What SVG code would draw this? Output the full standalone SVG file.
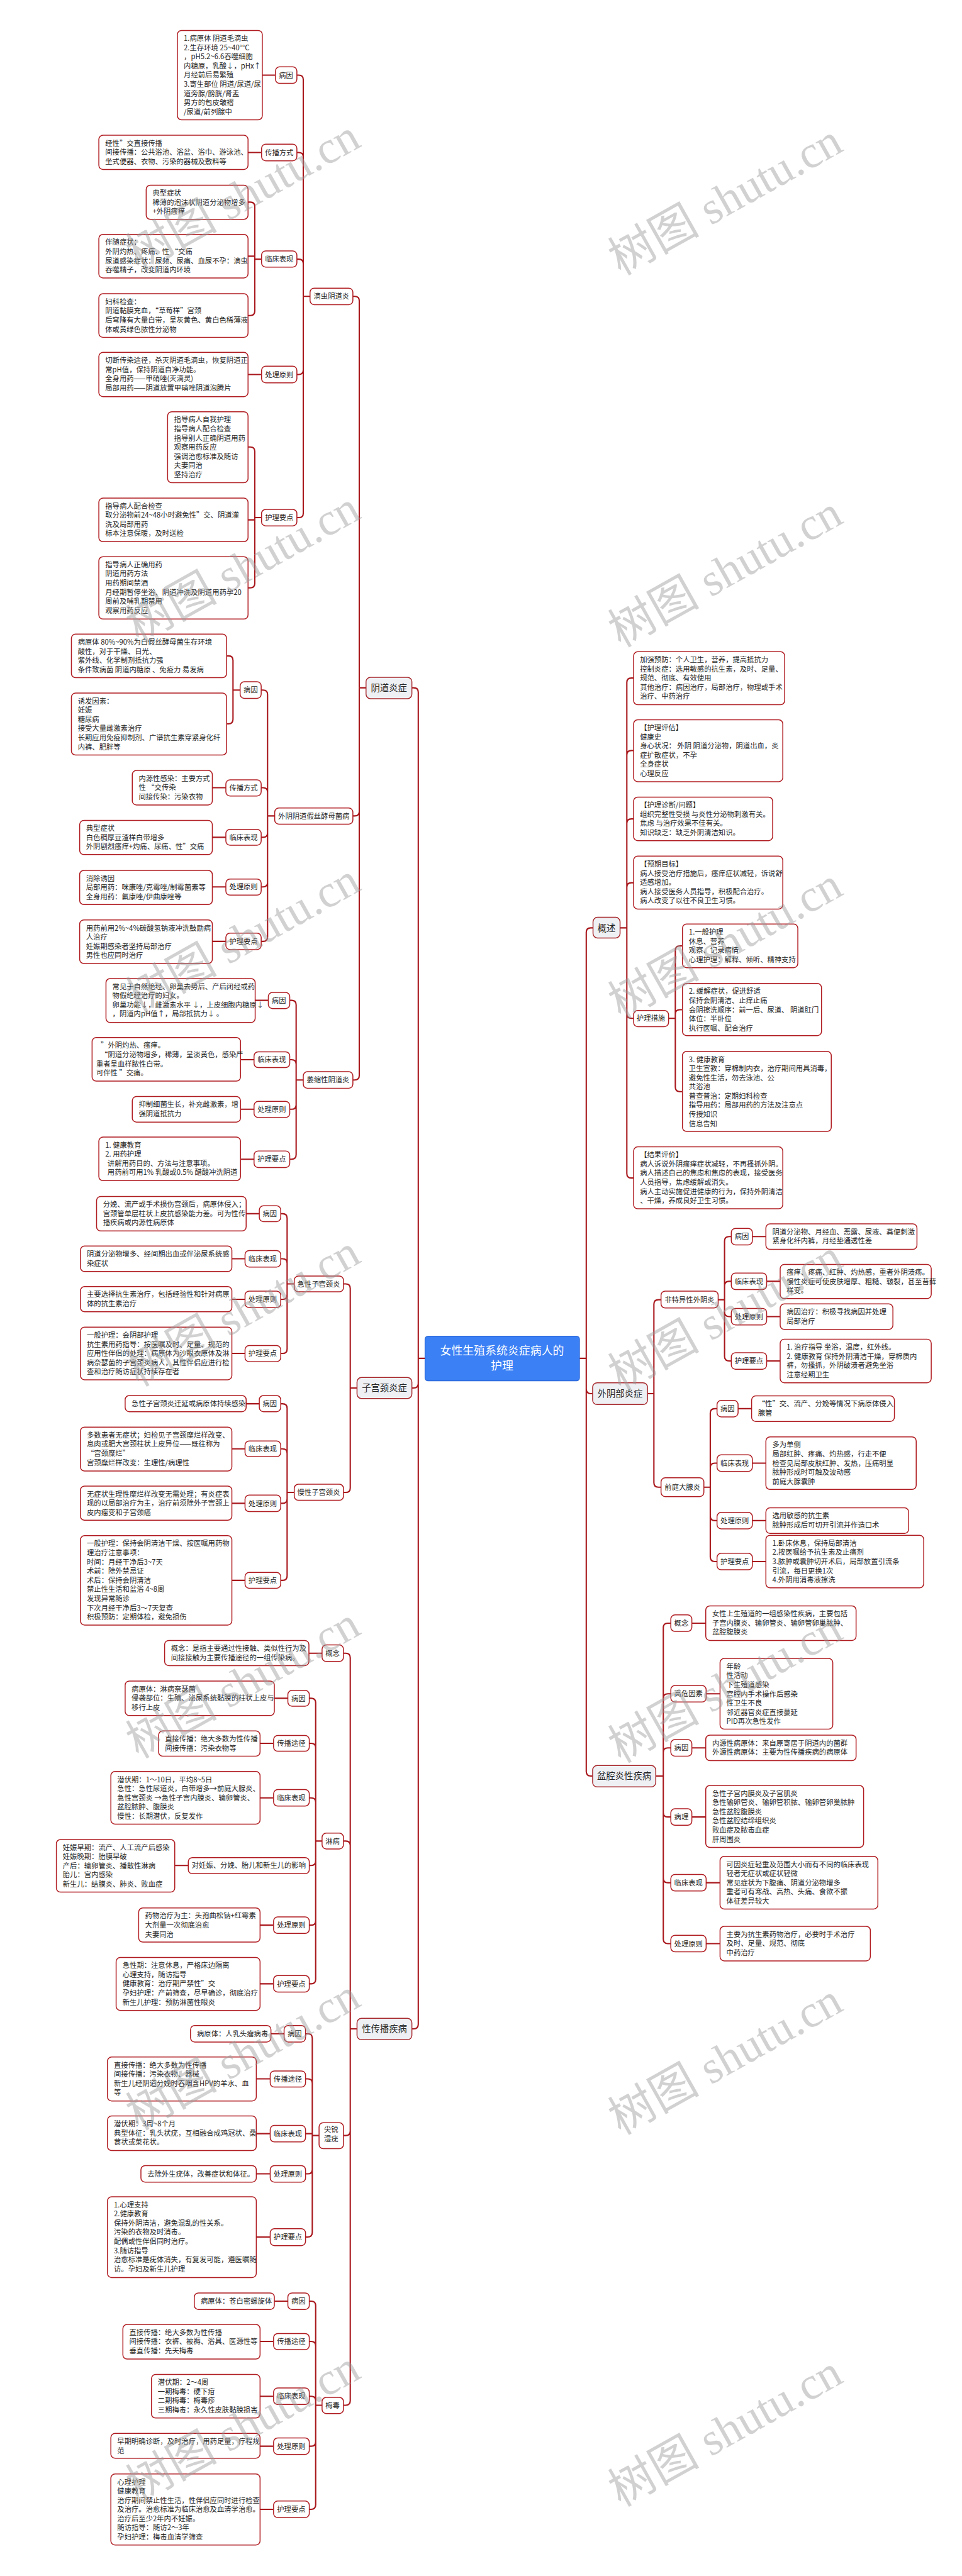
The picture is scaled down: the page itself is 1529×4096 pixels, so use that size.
<svg xmlns="http://www.w3.org/2000/svg" width="1529" height="4096" viewBox="0 0 1529 4096">
<style>
.c{fill:none;stroke:#a8171c;stroke-width:3.5;stroke-linecap:round}
.n{fill:#fff;stroke:#b01d22;stroke-width:2.5}
.m{fill:#eef0f4;stroke:#a82a2e;stroke-width:2.5}
.r{fill:#3b80f5;stroke:#2a66d6;stroke-width:2}
.t{font-family:"Noto Sans CJK SC","Noto Sans",sans-serif;font-size:19px;fill:#262626}
.a{text-anchor:middle}
.l{font-size:24px}
.rt{font-size:30px;fill:#fff}
.w{font-family:"Liberation Serif","Noto Sans CJK SC",serif;font-size:122px;fill:#9a9a9a;opacity:.45;text-anchor:middle}
</style>
<rect width="1529" height="4096" fill="#fff"/>
<g transform="scale(0.5973)">
<g id="connectors">
<path class="c" d="M1096 1831H1101Q1113 1831 1113 1843V3616M1096 3695H1101Q1113 3695 1113 3683V3616M1096 5401H1101Q1113 5401 1113 5389V3616M1113 3616H1131"/>
<path class="c" d="M939 789H944Q956 789 956 801V1831M939 2172H944Q956 2172 956 2160V1831M939 2875H944Q956 2875 956 2863V1831M956 1831H974"/>
<path class="c" d="M790 200H795Q807 200 807 212V789M790 406H795Q807 406 807 418V789M790 690H795Q807 690 807 702V789M790 997H795Q807 997 807 985V789M790 1378H795Q807 1378 807 1366V789M807 789H825"/>
<path class="c" d="M698 200H733M660 406H696M660 538H666Q678 538 678 550V690M660 682H678M660 840H666Q678 840 678 828V690M678 690H696M660 997H696M660 1190H666Q678 1190 678 1202V1378M660 1384H678M660 1565H666Q678 1565 678 1553V1378M678 1378H696"/>
<path class="c" d="M695 1837H700Q712 1837 712 1849V2172M695 2097H700Q712 2097 712 2109V2172M695 2229H700Q712 2229 712 2217V2172M695 2361H700Q712 2361 712 2349V2172M695 2506H700Q712 2506 712 2494V2172M712 2172H731"/>
<path class="c" d="M603 1746H608Q620 1746 620 1758V1837M603 1927H608Q620 1927 620 1915V1837M620 1837H639M565 2097H601M565 2229H601M565 2361H601M565 2506H601"/>
<path class="c" d="M771 2663H776Q788 2663 788 2675V2875M771 2821H776Q788 2821 788 2833V2875M771 2953H776Q788 2953 788 2941V2875M771 3086H776Q788 3086 788 3074V2875M788 2875H807M679 2663H714M640 2821H676M640 2953H676M640 3086H676"/>
<path class="c" d="M914 3418H920Q932 3418 932 3430V3695M914 3973H920Q932 3973 932 3961V3695M932 3695H950"/>
<path class="c" d="M747 3231H752Q764 3231 764 3243V3418M747 3351H752Q764 3351 764 3363V3418M747 3459H752Q764 3459 764 3447V3418M747 3603H752Q764 3603 764 3591V3418M764 3418H783M655 3231H690M617 3351H652M617 3459H652M617 3603H652"/>
<path class="c" d="M747 3737H752Q764 3737 764 3749V3973M747 3857H752Q764 3857 764 3869V3973M747 4002H752Q764 4002 764 3990V3973M747 4207H752Q764 4207 764 4195V3973M764 3973H783M655 3737H690M617 3857H652M617 4002H652M617 4207H652"/>
<path class="c" d="M914 4401H920Q932 4401 932 4413V5401M914 4901H920Q932 4901 932 4913V5401M914 5685H920Q932 5685 932 5673V5401M914 6403H920Q932 6403 932 6391V5401M932 5401H950M822 4401H857"/>
<path class="c" d="M823 4521H828Q840 4521 840 4533V4901M823 4641H828Q840 4641 840 4653V4901M823 4786H828Q840 4786 840 4798V4901M823 4966H828Q840 4966 840 4954V4901M823 5125H828Q840 5125 840 5113V4901M823 5281H828Q840 5281 840 5269V4901M840 4901H857M730 4521H766M692 4641H728M692 4786H728M465 4966H501M692 5125H728M692 5281H728"/>
<path class="c" d="M813 5414H819Q831 5414 831 5426V5685M813 5534H819Q831 5534 831 5546V5685M813 5680H831M813 5787H819Q831 5787 831 5775V5685M813 5955H819Q831 5955 831 5943V5685M831 5685H849M721 5414H756M682 5534H719M682 5680H719M682 5787H719M682 5955H719"/>
<path class="c" d="M823 6126H828Q840 6126 840 6138V6403M823 6233H828Q840 6233 840 6245V6403M823 6379H828Q840 6379 840 6391V6403M823 6512H828Q840 6512 840 6500V6403M823 6680H828Q840 6680 840 6668V6403M840 6403H857M730 6126H766M692 6233H728M692 6379H728M692 6512H728M692 6680H728"/>
<path class="c" d="M1578 2470H1572Q1560 2470 1560 2482V3616M1577 3710H1572Q1560 3710 1560 3698V3616M1577 4728H1572Q1560 4728 1560 4716V3616M1542 3616H1560"/>
<path class="c" d="M1686 1805H1680Q1668 1805 1668 1817V2470M1686 1998H1680Q1668 1998 1668 2010V2470M1686 2180H1680Q1668 2180 1668 2192V2470M1686 2350H1680Q1668 2350 1668 2362V2470M1686 2711H1680Q1668 2711 1668 2699V2470M1686 3136H1680Q1668 3136 1668 3124V2470M1650 2470H1668"/>
<path class="c" d="M1816 2518H1809Q1797 2518 1797 2530V2711M1816 2688H1809Q1797 2688 1797 2700V2711M1816 2906H1809Q1797 2906 1797 2894V2711M1779 2711H1797"/>
<path class="c" d="M1759 3460H1752Q1740 3460 1740 3472V3710M1759 3959H1752Q1740 3959 1740 3947V3710M1723 3710H1740"/>
<path class="c" d="M1946 3292H1940Q1928 3292 1928 3304V3460M1946 3411H1940Q1928 3411 1928 3423V3460M1946 3505H1940Q1928 3505 1928 3493V3460M1946 3623H1940Q1928 3623 1928 3611V3460M1911 3460H1928M2002 3292H2038M2040 3411H2076M2040 3505H2076M2040 3623H2076"/>
<path class="c" d="M1908 3750H1902Q1890 3750 1890 3762V3959M1908 3895H1902Q1890 3895 1890 3907V3959M1908 4048H1902Q1890 4048 1890 4036V3959M1908 4157H1902Q1890 4157 1890 4145V3959M1873 3959H1890M1964 3750H2000M2002 3895H2038M2002 4048H2038M2002 4157H2038"/>
<path class="c" d="M1785 4321H1777Q1765 4321 1765 4333V4728M1785 4509H1777Q1765 4509 1765 4521V4728M1785 4653H1777Q1765 4653 1765 4665V4728M1785 4837H1777Q1765 4837 1765 4825V4728M1785 5012H1777Q1765 5012 1765 5000V4728M1785 5174H1777Q1765 5174 1765 5162V4728M1745 4728H1765M1841 4321H1878M1879 4509H1916M1841 4653H1878M1841 4837H1878M1879 5012H1916M1879 5174H1916"/>
</g>
<g id="root"><rect class="r" x="1131" y="3557" width="411" height="119" rx="8"/><text class="t a rt" x="1336" y="3606">女性生殖系统炎症病人的</text><text class="t a rt" x="1336" y="3647">护理</text></g>
<g id="level1">
<g id="n-ydyz"><rect class="m" x="974" y="1803" width="122" height="57" rx="12"/><text class="t a l" x="1035" y="1840">阴道炎症</text></g>
<g id="n-zgjyz"><rect class="m" x="950" y="3667" width="146" height="56" rx="12"/><text class="t a l" x="1023" y="3704">子宫颈炎症</text></g>
<g id="n-xcb"><rect class="m" x="950" y="5373" width="146" height="57" rx="12"/><text class="t a l" x="1023" y="5410">性传播疾病</text></g>
<g id="n-gs"><rect class="m" x="1578" y="2442" width="72" height="55" rx="12"/><text class="t a l" x="1614" y="2479">概述</text></g>
<g id="n-wybyz"><rect class="m" x="1577" y="3681" width="146" height="58" rx="12"/><text class="t a l" x="1650" y="3719">外阴部炎症</text></g>
<g id="n-pqy"><rect class="m" x="1577" y="4700" width="168" height="57" rx="12"/><text class="t a l" x="1661" y="4737">盆腔炎性疾病</text></g>
</g>
<g id="level2">
<g id="n-dc"><rect class="n" x="825" y="767" width="114" height="44" rx="11"/><text class="t a" x="882" y="796">滴虫阴道炎</text></g>
<g id="n-js"><rect class="n" x="731" y="2151" width="208" height="43" rx="11"/><text class="t a" x="835" y="2179">外阴阴道假丝酵母菌病</text></g>
<g id="n-ws"><rect class="n" x="807" y="2853" width="132" height="44" rx="11"/><text class="t a" x="873" y="2882">萎缩性阴道炎</text></g>
<g id="n-jx"><rect class="n" x="783" y="3397" width="131" height="42" rx="11"/><text class="t a" x="848" y="3425">急性子宫颈炎</text></g>
<g id="n-mx"><rect class="n" x="783" y="3951" width="131" height="43" rx="11"/><text class="t a" x="848" y="3980">慢性子宫颈炎</text></g>
<g id="n-gn"><rect class="n" x="857" y="4379" width="57" height="44" rx="11"/><text class="t a" x="885" y="4408">概念</text></g>
<g id="n-lb"><rect class="n" x="857" y="4880" width="57" height="42" rx="11"/><text class="t a" x="885" y="4908">淋病</text></g>
<g id="n-jr"><rect class="n" x="849" y="5651" width="65" height="69" rx="11"/><text class="t a" x="881" y="5676">尖锐</text><text class="t a" x="881" y="5701">湿疣</text></g>
<g id="n-md"><rect class="n" x="857" y="6382" width="57" height="43" rx="11"/><text class="t a" x="885" y="6410">梅毒</text></g>
<g id="n-hlcs"><rect class="n" x="1686" y="2690" width="93" height="43" rx="11"/><text class="t a" x="1732" y="2718">护理措施</text></g>
<g id="n-ftyx"><rect class="n" x="1759" y="3437" width="152" height="45" rx="11"/><text class="t a" x="1835" y="3467">非特异性外阴炎</text></g>
<g id="n-qtdx"><rect class="n" x="1759" y="3934" width="114" height="50" rx="11"/><text class="t a" x="1816" y="3966">前庭大腺炎</text></g>
</g>
<g id="level3">
<g><rect class="n" x="733" y="178" width="57" height="44" rx="11"/><text class="t a" x="761" y="207">病因</text></g>
<g><rect class="n" x="696" y="384" width="94" height="44" rx="11"/><text class="t a" x="743" y="413">传播方式</text></g>
<g><rect class="n" x="696" y="668" width="94" height="43" rx="11"/><text class="t a" x="743" y="697">临床表现</text></g>
<g><rect class="n" x="696" y="975" width="94" height="44" rx="11"/><text class="t a" x="743" y="1004">处理原则</text></g>
<g><rect class="n" x="696" y="1356" width="94" height="44" rx="11"/><text class="t a" x="743" y="1385">护理要点</text></g>
<g><rect class="n" x="639" y="1815" width="56" height="44" rx="11"/><text class="t a" x="667" y="1844">病因</text></g>
<g><rect class="n" x="601" y="2076" width="94" height="43" rx="11"/><text class="t a" x="648" y="2104">传播方式</text></g>
<g><rect class="n" x="601" y="2208" width="94" height="42" rx="11"/><text class="t a" x="648" y="2236">临床表现</text></g>
<g><rect class="n" x="601" y="2340" width="94" height="43" rx="11"/><text class="t a" x="648" y="2368">处理原则</text></g>
<g><rect class="n" x="601" y="2484" width="94" height="44" rx="11"/><text class="t a" x="648" y="2513">护理要点</text></g>
<g><rect class="n" x="714" y="2642" width="57" height="43" rx="11"/><text class="t a" x="742" y="2670">病因</text></g>
<g><rect class="n" x="676" y="2800" width="95" height="42" rx="11"/><text class="t a" x="723" y="2828">临床表现</text></g>
<g><rect class="n" x="676" y="2932" width="95" height="43" rx="11"/><text class="t a" x="723" y="2960">处理原则</text></g>
<g><rect class="n" x="676" y="3064" width="95" height="44" rx="11"/><text class="t a" x="723" y="3093">护理要点</text></g>
<g><rect class="n" x="690" y="3210" width="57" height="42" rx="11"/><text class="t a" x="718" y="3238">病因</text></g>
<g><rect class="n" x="652" y="3329" width="95" height="44" rx="11"/><text class="t a" x="699" y="3358">临床表现</text></g>
<g><rect class="n" x="652" y="3437" width="95" height="44" rx="11"/><text class="t a" x="699" y="3466">处理原则</text></g>
<g><rect class="n" x="652" y="3582" width="95" height="43" rx="11"/><text class="t a" x="699" y="3610">护理要点</text></g>
<g><rect class="n" x="690" y="3715" width="57" height="43" rx="11"/><text class="t a" x="718" y="3744">病因</text></g>
<g><rect class="n" x="652" y="3836" width="95" height="42" rx="11"/><text class="t a" x="699" y="3864">临床表现</text></g>
<g><rect class="n" x="652" y="3980" width="95" height="44" rx="11"/><text class="t a" x="699" y="4009">处理原则</text></g>
<g><rect class="n" x="652" y="4186" width="95" height="42" rx="11"/><text class="t a" x="699" y="4214">护理要点</text></g>
<g><rect class="n" x="766" y="4500" width="57" height="42" rx="11"/><text class="t a" x="794" y="4528">病因</text></g>
<g><rect class="n" x="728" y="4620" width="95" height="42" rx="11"/><text class="t a" x="775" y="4648">传播途径</text></g>
<g><rect class="n" x="728" y="4764" width="95" height="44" rx="11"/><text class="t a" x="775" y="4793">临床表现</text></g>
<g><rect class="n" x="501" y="4945" width="322" height="43" rx="11"/><text class="t a" x="662" y="4973">对妊娠、分娩、胎儿和新生儿的影响</text></g>
<g><rect class="n" x="728" y="5103" width="95" height="44" rx="11"/><text class="t a" x="775" y="5132">处理原则</text></g>
<g><rect class="n" x="728" y="5259" width="95" height="44" rx="11"/><text class="t a" x="775" y="5288">护理要点</text></g>
<g><rect class="n" x="756" y="5392" width="57" height="44" rx="11"/><text class="t a" x="784" y="5421">病因</text></g>
<g><rect class="n" x="719" y="5513" width="94" height="43" rx="11"/><text class="t a" x="766" y="5541">传播途径</text></g>
<g><rect class="n" x="719" y="5658" width="94" height="44" rx="11"/><text class="t a" x="766" y="5687">临床表现</text></g>
<g><rect class="n" x="719" y="5765" width="94" height="44" rx="11"/><text class="t a" x="766" y="5794">处理原则</text></g>
<g><rect class="n" x="719" y="5933" width="94" height="45" rx="11"/><text class="t a" x="766" y="5962">护理要点</text></g>
<g><rect class="n" x="766" y="6104" width="57" height="44" rx="11"/><text class="t a" x="794" y="6133">病因</text></g>
<g><rect class="n" x="728" y="6212" width="95" height="43" rx="11"/><text class="t a" x="775" y="6240">传播途径</text></g>
<g><rect class="n" x="728" y="6357" width="95" height="44" rx="11"/><text class="t a" x="775" y="6386">临床表现</text></g>
<g><rect class="n" x="728" y="6490" width="95" height="44" rx="11"/><text class="t a" x="775" y="6519">处理原则</text></g>
<g><rect class="n" x="728" y="6658" width="95" height="44" rx="11"/><text class="t a" x="775" y="6687">护理要点</text></g>
<g><rect class="n" x="1946" y="3270" width="56" height="44" rx="11"/><text class="t a" x="1974" y="3299">病因</text></g>
<g><rect class="n" x="1946" y="3389" width="94" height="44" rx="11"/><text class="t a" x="1993" y="3418">临床表现</text></g>
<g><rect class="n" x="1946" y="3483" width="94" height="44" rx="11"/><text class="t a" x="1993" y="3512">处理原则</text></g>
<g><rect class="n" x="1946" y="3601" width="94" height="44" rx="11"/><text class="t a" x="1993" y="3630">护理要点</text></g>
<g><rect class="n" x="1908" y="3728" width="56" height="44" rx="11"/><text class="t a" x="1936" y="3757">病因</text></g>
<g><rect class="n" x="1908" y="3873" width="94" height="44" rx="11"/><text class="t a" x="1955" y="3902">临床表现</text></g>
<g><rect class="n" x="1908" y="4026" width="94" height="44" rx="11"/><text class="t a" x="1955" y="4055">处理原则</text></g>
<g><rect class="n" x="1908" y="4135" width="94" height="44" rx="11"/><text class="t a" x="1955" y="4164">护理要点</text></g>
<g><rect class="n" x="1785" y="4299" width="56" height="44" rx="11"/><text class="t a" x="1813" y="4328">概念</text></g>
<g><rect class="n" x="1785" y="4487" width="94" height="44" rx="11"/><text class="t a" x="1832" y="4516">高危因素</text></g>
<g><rect class="n" x="1785" y="4631" width="56" height="44" rx="11"/><text class="t a" x="1813" y="4660">病因</text></g>
<g><rect class="n" x="1785" y="4815" width="56" height="44" rx="11"/><text class="t a" x="1813" y="4844">病理</text></g>
<g><rect class="n" x="1785" y="4990" width="94" height="44" rx="11"/><text class="t a" x="1832" y="5019">临床表现</text></g>
<g><rect class="n" x="1785" y="5152" width="94" height="44" rx="11"/><text class="t a" x="1832" y="5181">处理原则</text></g>
</g>
<g id="boxes">
<g><rect class="n" x="472" y="81" width="226" height="238" rx="11"/><text class="t" x="489" y="109"><tspan x="489">1.病原体 阴道毛滴虫</tspan><tspan x="489" dy="24.4">2.生存环境 25~40°°C</tspan><tspan x="489" dy="24.4">，pH5.2~6.6吞噬细胞</tspan><tspan x="489" dy="24.4">内糖原，乳酸↓，pHx↑</tspan><tspan x="489" dy="24.4">月经前后易繁殖</tspan><tspan x="489" dy="24.4">3.寄生部位 阴道/尿道/尿</tspan><tspan x="489" dy="24.4">道旁腺/膀胱/肾盂</tspan><tspan x="489" dy="24.4">男方的包皮皱褶</tspan><tspan x="489" dy="24.4">/尿道/前列腺中</tspan></text></g>
<g><rect class="n" x="263" y="360" width="397" height="91" rx="11"/><text class="t" x="280" y="388"><tspan x="280">经性”交直接传播</tspan><tspan x="280" dy="24.4">间接传播：公共浴池、浴盆、浴巾、游泳池、</tspan><tspan x="280" dy="24.4">坐式便器、衣物、污染的器械及敷料等</tspan></text></g>
<g><rect class="n" x="389" y="493" width="271" height="91" rx="11"/><text class="t" x="406" y="521"><tspan x="406">典型症状</tspan><tspan x="406" dy="24.4">稀薄的泡沫状阴道分泌物增多</tspan><tspan x="406" dy="24.4">+外阴瘙痒</tspan></text></g>
<g><rect class="n" x="263" y="624" width="397" height="116" rx="11"/><text class="t" x="280" y="652"><tspan x="280">伴随症状：</tspan><tspan x="280" dy="24.4">外阴灼热、疼痛、性 “交痛</tspan><tspan x="280" dy="24.4">尿道感染症状：尿频、尿痛、血尿不孕：滴虫</tspan><tspan x="280" dy="24.4">吞噬精子，改变阴道内环境</tspan></text></g>
<g><rect class="n" x="263" y="782" width="397" height="116" rx="11"/><text class="t" x="280" y="810"><tspan x="280">妇科检查：</tspan><tspan x="280" dy="24.4">阴道黏膜充血，“草莓样”宫颈</tspan><tspan x="280" dy="24.4">后穹隆有大量白带，呈灰黄色、黄白色稀薄液</tspan><tspan x="280" dy="24.4">体或黄绿色脓性分泌物</tspan></text></g>
<g><rect class="n" x="263" y="938" width="397" height="118" rx="11"/><text class="t" x="280" y="966"><tspan x="280">切断传染途径，杀灭阴道毛滴虫，恢复阴道正</tspan><tspan x="280" dy="24.4">常pH值，保持阴道自净功能。</tspan><tspan x="280" dy="24.4">全身用药——甲硝唑(灭滴灵)</tspan><tspan x="280" dy="24.4">局部用药——阴道放置甲硝唑阴道泡腾片</tspan></text></g>
<g><rect class="n" x="446" y="1096" width="214" height="189" rx="11"/><text class="t" x="463" y="1124"><tspan x="463">指导病人自我护理</tspan><tspan x="463" dy="24.4">指导病人配合检查</tspan><tspan x="463" dy="24.4">指导别人正确阴道用药</tspan><tspan x="463" dy="24.4">观察用药反应</tspan><tspan x="463" dy="24.4">强调治愈标准及随访</tspan><tspan x="463" dy="24.4">夫妻同治</tspan><tspan x="463" dy="24.4">坚持治疗</tspan></text></g>
<g><rect class="n" x="263" y="1326" width="397" height="116" rx="11"/><text class="t" x="280" y="1354"><tspan x="280">指导病人配合检查</tspan><tspan x="280" dy="24.4">取分泌物前24~48小时避免性”交、阴道灌</tspan><tspan x="280" dy="24.4">洗及局部用药</tspan><tspan x="280" dy="24.4">标本注意保暖，及时送检</tspan></text></g>
<g><rect class="n" x="263" y="1482" width="397" height="166" rx="11"/><text class="t" x="280" y="1510"><tspan x="280">指导病人正确用药</tspan><tspan x="280" dy="24.4">阴道用药方法</tspan><tspan x="280" dy="24.4">用药期间禁酒</tspan><tspan x="280" dy="24.4">月经期暂停坐浴、阴道冲洗及阴道用药孕20</tspan><tspan x="280" dy="24.4">周前及哺乳期禁用</tspan><tspan x="280" dy="24.4">观察用药反应</tspan></text></g>
<g><rect class="n" x="190" y="1688" width="413" height="116" rx="11"/><text class="t" x="207" y="1716"><tspan x="207">病原体 80%~90%为白假丝酵母菌生存环境</tspan><tspan x="207" dy="24.4">酸性，对于干燥、日光、</tspan><tspan x="207" dy="24.4">紫外线、化学制剂抵抗力强</tspan><tspan x="207" dy="24.4">条件致病菌 阴道内糖原 、免疫力 易发病</tspan></text></g>
<g><rect class="n" x="190" y="1845" width="413" height="165" rx="11"/><text class="t" x="207" y="1873"><tspan x="207">诱发因素：</tspan><tspan x="207" dy="24.4">妊娠</tspan><tspan x="207" dy="24.4">糖尿病</tspan><tspan x="207" dy="24.4">接受大量雌激素治疗</tspan><tspan x="207" dy="24.4">长期应用免疫抑制剂、广谱抗生素穿紧身化纤</tspan><tspan x="207" dy="24.4">内裤、肥胖等</tspan></text></g>
<g><rect class="n" x="352" y="2051" width="213" height="92" rx="11"/><text class="t" x="369" y="2079"><tspan x="369">内源性感染：主要方式</tspan><tspan x="369" dy="24.4">性 “交传染</tspan><tspan x="369" dy="24.4">间接传染：污染衣物</tspan></text></g>
<g><rect class="n" x="212" y="2184" width="353" height="91" rx="11"/><text class="t" x="229" y="2212"><tspan x="229">典型症状</tspan><tspan x="229" dy="24.4">白色稠厚豆渣样白带增多</tspan><tspan x="229" dy="24.4">外阴剧烈瘙痒+灼痛、尿痛、性”交痛</tspan></text></g>
<g><rect class="n" x="212" y="2317" width="353" height="91" rx="11"/><text class="t" x="229" y="2345"><tspan x="229">消除诱因</tspan><tspan x="229" dy="24.4">局部用药：咪康唑/克霉唑/制霉菌素等</tspan><tspan x="229" dy="24.4">全身用药：氟康唑/伊曲康唑等</tspan></text></g>
<g><rect class="n" x="212" y="2449" width="353" height="116" rx="11"/><text class="t" x="229" y="2477"><tspan x="229">用药前用2%~4%碳酸氢钠液冲洗鼓励病</tspan><tspan x="229" dy="24.4">人治疗</tspan><tspan x="229" dy="24.4">妊娠期感染者坚持局部治疗</tspan><tspan x="229" dy="24.4">男性也应同时治疗</tspan></text></g>
<g><rect class="n" x="282" y="2605" width="397" height="117" rx="11"/><text class="t" x="299" y="2633"><tspan x="299">常见于自然绝经、卵巢去势后、产后闭经或药</tspan><tspan x="299" dy="24.4">物假绝经治疗的妇女。</tspan><tspan x="299" dy="24.4">卵巢功能↓，雌激素水平 ↓，上皮细胞内糖原↓</tspan><tspan x="299" dy="24.4">，阴道内pH值↑，局部抵抗力↓ 。</tspan></text></g>
<g><rect class="n" x="245" y="2762" width="395" height="116" rx="11"/><text class="t" x="262" y="2790"><tspan x="268">”外阴灼热、瘙痒。</tspan><tspan x="268" dy="24.4">“阴道分泌物增多，稀薄，呈淡黄色，感染严</tspan><tspan x="256" dy="24.4">重者呈血样脓性白带。</tspan><tspan x="256" dy="24.4">可伴性 ”交痛。</tspan></text></g>
<g><rect class="n" x="352" y="2919" width="288" height="68" rx="11"/><text class="t" x="369" y="2947"><tspan x="369">抑制细菌生长，补充雌激素，增</tspan><tspan x="369" dy="24.4">强阴道抵抗力</tspan></text></g>
<g><rect class="n" x="263" y="3027" width="377" height="116" rx="11"/><text class="t" x="280" y="3055"><tspan x="280">1. 健康教育</tspan><tspan x="280" dy="24.4">2. 用药护理</tspan><tspan x="286" dy="24.4">讲解用药目的、方法与注意事项。</tspan><tspan x="286" dy="24.4">用药前可用1% 乳酸或0.5% 醋酸冲洗阴道</tspan></text></g>
<g><rect class="n" x="257" y="3185" width="398" height="92" rx="11"/><text class="t" x="274" y="3213"><tspan x="274">分娩、流产或手术损伤宫颈后，病原体侵入；</tspan><tspan x="274" dy="24.4">宫颈管单层柱状上皮抗感染能力差。可为性传</tspan><tspan x="274" dy="24.4">播疾病或内源性病原体</tspan></text></g>
<g><rect class="n" x="214" y="3317" width="403" height="68" rx="11"/><text class="t" x="231" y="3345"><tspan x="231">阴道分泌物增多、经间期出血或伴泌尿系统感</tspan><tspan x="231" dy="24.4">染症状</tspan></text></g>
<g><rect class="n" x="214" y="3425" width="403" height="67" rx="11"/><text class="t" x="231" y="3453"><tspan x="231">主要选择抗生素治疗，包括经验性和针对病原</tspan><tspan x="231" dy="24.4">体的抗生素治疗</tspan></text></g>
<g><rect class="n" x="214" y="3533" width="403" height="140" rx="11"/><text class="t" x="231" y="3561"><tspan x="231">一般护理：会阴部护理</tspan><tspan x="231" dy="24.4">抗生素用药指导：按医嘱及时、足量、规范的</tspan><tspan x="231" dy="24.4">应用性伴侣的处理：病原体为沙眼衣原体及淋</tspan><tspan x="231" dy="24.4">病奈瑟菌的子宫颈炎病人，其性伴侣应进行检</tspan><tspan x="231" dy="24.4">查和治疗随访症状持续存在者</tspan></text></g>
<g><rect class="n" x="333" y="3715" width="322" height="43" rx="11"/><text class="t" x="350" y="3743">急性子宫颈炎迁延或病原体持续感染</text></g>
<g><rect class="n" x="214" y="3799" width="403" height="117" rx="11"/><text class="t" x="231" y="3827"><tspan x="231">多数患者无症状；妇检见子宫颈糜烂样改变、</tspan><tspan x="231" dy="24.4">息肉或肥大宫颈柱状上皮异位——既往称为</tspan><tspan x="231" dy="24.4">“宫颈糜烂”</tspan><tspan x="231" dy="24.4">宫颈糜烂样改变：生理性/病理性</tspan></text></g>
<g><rect class="n" x="214" y="3956" width="403" height="91" rx="11"/><text class="t" x="231" y="3984"><tspan x="231">无症状生理性糜烂样改变无需处理；有炎症表</tspan><tspan x="231" dy="24.4">现的以局部治疗为主，治疗前须除外子宫颈上</tspan><tspan x="231" dy="24.4">皮内瘤变和子宫颈癌</tspan></text></g>
<g><rect class="n" x="214" y="4088" width="403" height="238" rx="11"/><text class="t" x="231" y="4116"><tspan x="231">一般护理：保持会阴清洁干燥、按医嘱用药物</tspan><tspan x="231" dy="24.4">理治疗注意事项：</tspan><tspan x="231" dy="24.4">时间：月经干净后3~7天</tspan><tspan x="231" dy="24.4">术前：除外禁忌证</tspan><tspan x="231" dy="24.4">术后：保持会阴清洁</tspan><tspan x="231" dy="24.4">禁止性生活和盆浴 4~8周</tspan><tspan x="231" dy="24.4">发现异常随诊</tspan><tspan x="231" dy="24.4">下次月经干净后3～7天复查</tspan><tspan x="231" dy="24.4">积极预防：定期体检，避免损伤</tspan></text></g>
<g><rect class="n" x="438" y="4367" width="384" height="67" rx="11"/><text class="t" x="455" y="4395"><tspan x="455">概念：是指主要通过性接触、类似性行为及</tspan><tspan x="455" dy="24.4">间接接触为主要传播途径的一组传染病。</tspan></text></g>
<g><rect class="n" x="333" y="4475" width="397" height="92" rx="11"/><text class="t" x="350" y="4503"><tspan x="350">病原体：淋病奈瑟菌</tspan><tspan x="350" dy="24.4">侵袭部位：生殖、泌尿系统黏膜的柱状上皮与</tspan><tspan x="350" dy="24.4">移行上皮</tspan></text></g>
<g><rect class="n" x="422" y="4608" width="270" height="67" rx="11"/><text class="t" x="439" y="4636"><tspan x="439">直接传播：绝大多数为性传播</tspan><tspan x="439" dy="24.4">间接传播：污染衣物等</tspan></text></g>
<g><rect class="n" x="295" y="4716" width="397" height="140" rx="11"/><text class="t" x="312" y="4744"><tspan x="312">潜伏期：1～10日，平均8~5日</tspan><tspan x="312" dy="24.4">急性：急性尿道炎，白带增多→前庭大腺炎、</tspan><tspan x="312" dy="24.4">急性宫颈炎 →急性子宫内膜炎、输卵管炎、</tspan><tspan x="312" dy="24.4">盆腔脓肿、腹膜炎</tspan><tspan x="312" dy="24.4">慢性：长期潜伏，反复发作</tspan></text></g>
<g><rect class="n" x="150" y="4897" width="315" height="140" rx="11"/><text class="t" x="167" y="4925"><tspan x="167">妊娠早期：流产、人工流产后感染</tspan><tspan x="167" dy="24.4">妊娠晚期：胎膜早破</tspan><tspan x="167" dy="24.4">产后：输卵管炎、播散性淋病</tspan><tspan x="167" dy="24.4">胎儿：宫内感染</tspan><tspan x="167" dy="24.4">新生儿：结膜炎、肺炎、败血症</tspan></text></g>
<g><rect class="n" x="369" y="5079" width="323" height="91" rx="11"/><text class="t" x="386" y="5107"><tspan x="386">药物治疗为主：头孢曲松钠+红霉素</tspan><tspan x="386" dy="24.4">大剂量一次彻底治愈</tspan><tspan x="386" dy="24.4">夫妻同治</tspan></text></g>
<g><rect class="n" x="309" y="5211" width="383" height="141" rx="11"/><text class="t" x="326" y="5239"><tspan x="326">急性期：注意休息，严格床边隔离</tspan><tspan x="326" dy="24.4">心理支持，随访指导</tspan><tspan x="326" dy="24.4">健康教育：治疗期严禁性”交</tspan><tspan x="326" dy="24.4">孕妇护理：产前筛查，尽早确诊，彻底治疗</tspan><tspan x="326" dy="24.4">新生儿护理：预防淋菌性眼炎</tspan></text></g>
<g><rect class="n" x="507" y="5392" width="214" height="44" rx="11"/><text class="t" x="524" y="5421">病原体：人乳头瘤病毒</text></g>
<g><rect class="n" x="286" y="5476" width="396" height="117" rx="11"/><text class="t" x="303" y="5504"><tspan x="303">直接传播：绝大多数为性传播</tspan><tspan x="303" dy="24.4">间接传播：污染衣物、器械</tspan><tspan x="303" dy="24.4">新生儿经阴道分娩时吞咽含HPV的羊水、血</tspan><tspan x="303" dy="24.4">等</tspan></text></g>
<g><rect class="n" x="286" y="5633" width="396" height="92" rx="11"/><text class="t" x="303" y="5661"><tspan x="303">潜伏期：3周~8个月</tspan><tspan x="303" dy="24.4">典型体征：乳头状疣，互相融合成鸡冠状、桑</tspan><tspan x="303" dy="24.4">葚状或菜花状。</tspan></text></g>
<g><rect class="n" x="375" y="5765" width="307" height="44" rx="11"/><text class="t" x="392" y="5794">去除外生疣体，改善症状和体征。</text></g>
<g><rect class="n" x="286" y="5848" width="396" height="215" rx="11"/><text class="t" x="303" y="5876"><tspan x="303">1.心理支持</tspan><tspan x="303" dy="24.4">2.健康教育</tspan><tspan x="303" dy="24.4">保持外阴清洁，避免混乱的性关系。</tspan><tspan x="303" dy="24.4">污染的衣物及时消毒。</tspan><tspan x="303" dy="24.4">配偶或性伴侣同时治疗。</tspan><tspan x="303" dy="24.4">3.随访指导</tspan><tspan x="303" dy="24.4">治愈标准是疣体消失，有复发可能，遵医嘱随</tspan><tspan x="303" dy="24.4">访。孕妇及新生儿护理</tspan></text></g>
<g><rect class="n" x="517" y="6104" width="213" height="44" rx="11"/><text class="t" x="534" y="6133">病原体：苍白密螺旋体</text></g>
<g><rect class="n" x="327" y="6188" width="365" height="92" rx="11"/><text class="t" x="344" y="6216"><tspan x="344">直接传播：绝大多数为性传播</tspan><tspan x="344" dy="24.4">间接传播：衣裤、被褥、浴具、医源性等</tspan><tspan x="344" dy="24.4">垂直传播：先天梅毒</tspan></text></g>
<g><rect class="n" x="403" y="6321" width="289" height="116" rx="11"/><text class="t" x="420" y="6349"><tspan x="420">潜伏期：2～4周</tspan><tspan x="420" dy="24.4">一期梅毒：硬下疳</tspan><tspan x="420" dy="24.4">二期梅毒：梅毒疹</tspan><tspan x="420" dy="24.4">三期梅毒：永久性皮肤黏膜损害</tspan></text></g>
<g><rect class="n" x="295" y="6478" width="397" height="66" rx="11"/><text class="t" x="312" y="6506"><tspan x="312">早期明确诊断，及时治疗，用药足量，疗程规</tspan><tspan x="312" dy="24.4">范</tspan></text></g>
<g><rect class="n" x="295" y="6586" width="397" height="189" rx="11"/><text class="t" x="312" y="6614"><tspan x="312">心理护理</tspan><tspan x="312" dy="24.4">健康教育</tspan><tspan x="312" dy="24.4">治疗期间禁止性生活，性伴侣应同时进行检查</tspan><tspan x="312" dy="24.4">及治疗。治愈标准为临床治愈及血清学治愈。</tspan><tspan x="312" dy="24.4">治疗后至少2年内不妊娠。</tspan><tspan x="312" dy="24.4">随访指导：随访2～3年</tspan><tspan x="312" dy="24.4">孕妇护理：梅毒血清学筛查</tspan></text></g>
<g><rect class="n" x="1686" y="1735" width="402" height="141" rx="11"/><text class="t" x="1703" y="1763"><tspan x="1703">加强预防：个人卫生，营养，提高抵抗力</tspan><tspan x="1703" dy="24.4">控制炎症：选用敏感的抗生素，及时、足量、</tspan><tspan x="1703" dy="24.4">规范、彻底、有效使用</tspan><tspan x="1703" dy="24.4">其他治疗：病因治疗，局部治疗，物理或手术</tspan><tspan x="1703" dy="24.4">治疗、中药治疗</tspan></text></g>
<g><rect class="n" x="1686" y="1916" width="397" height="165" rx="11"/><text class="t" x="1703" y="1944"><tspan x="1703">【护理评估】</tspan><tspan x="1703" dy="24.4">健康史</tspan><tspan x="1703" dy="24.4">身心状况： 外阴  阴道分泌物，阴道出血，炎</tspan><tspan x="1703" dy="24.4">症扩散症状，不孕</tspan><tspan x="1703" dy="24.4">全身症状</tspan><tspan x="1703" dy="24.4">心理反应</tspan></text></g>
<g><rect class="n" x="1686" y="2122" width="370" height="116" rx="11"/><text class="t" x="1703" y="2150"><tspan x="1703">【护理诊断/问题】</tspan><tspan x="1703" dy="24.4">组织完整性受损 与炎性分泌物刺激有关。</tspan><tspan x="1703" dy="24.4">焦虑 与治疗效果不佳有关。</tspan><tspan x="1703" dy="24.4">知识缺乏：缺乏外阴清洁知识。</tspan></text></g>
<g><rect class="n" x="1686" y="2279" width="397" height="141" rx="11"/><text class="t" x="1703" y="2307"><tspan x="1703">【预期目标】</tspan><tspan x="1703" dy="24.4">病人接受治疗措施后，瘙痒症状减轻，诉说舒</tspan><tspan x="1703" dy="24.4">适感增加。</tspan><tspan x="1703" dy="24.4">病人接受医务人员指导，积极配合治疗。</tspan><tspan x="1703" dy="24.4">病人改变了以往不良卫生习惯。</tspan></text></g>
<g><rect class="n" x="1816" y="2460" width="307" height="116" rx="11"/><text class="t" x="1833" y="2488"><tspan x="1833">1.一般护理</tspan><tspan x="1833" dy="24.4">休息、营养</tspan><tspan x="1833" dy="24.4">观察、记录病情</tspan><tspan x="1833" dy="24.4">心理护理：解释、倾听、精神支持</tspan></text></g>
<g><rect class="n" x="1816" y="2618" width="370" height="139" rx="11"/><text class="t" x="1833" y="2646"><tspan x="1833">2. 缓解症状，促进舒适</tspan><tspan x="1833" dy="24.4">保持会阴清洁、止痒止痛</tspan><tspan x="1833" dy="24.4">会阴擦洗顺序：前一后、尿道、 阴道肛门</tspan><tspan x="1833" dy="24.4">体位：半卧位</tspan><tspan x="1833" dy="24.4">执行医嘱、配合治疗</tspan></text></g>
<g><rect class="n" x="1816" y="2799" width="396" height="213" rx="11"/><text class="t" x="1833" y="2827"><tspan x="1833">3. 健康教育</tspan><tspan x="1833" dy="24.4">卫生宣教：穿棉制内衣，治疗期间用具消毒，</tspan><tspan x="1833" dy="24.4">避免性生活，勿去泳池、公</tspan><tspan x="1833" dy="24.4">共浴池</tspan><tspan x="1833" dy="24.4">普查普治：定期妇科检查</tspan><tspan x="1833" dy="24.4">指导用药：局部用药的方法及注意点</tspan><tspan x="1833" dy="24.4">传授知识</tspan><tspan x="1833" dy="24.4">信息告知</tspan></text></g>
<g><rect class="n" x="1686" y="3053" width="397" height="165" rx="11"/><text class="t" x="1703" y="3081"><tspan x="1703">【结果评价】</tspan><tspan x="1703" dy="24.4">病人诉说外阴瘙痒症状减轻，不再搔抓外阴。</tspan><tspan x="1703" dy="24.4">病人描述自己的焦虑和焦虑的表现，接受医务</tspan><tspan x="1703" dy="24.4">人员指导，焦虑缓解或消失。</tspan><tspan x="1703" dy="24.4">病人主动实施促进健康的行为，保持外阴清洁</tspan><tspan x="1703" dy="24.4">、干燥，养成良好卫生习惯。</tspan></text></g>
<g><rect class="n" x="2038" y="3258" width="402" height="68" rx="11"/><text class="t" x="2055" y="3286"><tspan x="2055">阴道分泌物、月经血、恶露、尿液、粪便刺激</tspan><tspan x="2055" dy="24.4">紧身化纤内裤，月经垫通透性差</tspan></text></g>
<g><rect class="n" x="2076" y="3366" width="402" height="91" rx="11"/><text class="t" x="2093" y="3394"><tspan x="2093">瘙痒、疼痛、红肿、灼热感，重者外阴溃疡。</tspan><tspan x="2093" dy="24.4">慢性炎症可使皮肤增厚、粗糙、皲裂，甚至苔藓</tspan><tspan x="2093" dy="24.4">样变。</tspan></text></g>
<g><rect class="n" x="2076" y="3471" width="300" height="68" rx="11"/><text class="t" x="2093" y="3499"><tspan x="2093">病因治疗：积极寻找病因并处理</tspan><tspan x="2093" dy="24.4">局部治疗</tspan></text></g>
<g><rect class="n" x="2076" y="3565" width="402" height="116" rx="11"/><text class="t" x="2093" y="3593"><tspan x="2093">1. 治疗指导 坐浴，温度，红外线。</tspan><tspan x="2093" dy="24.4">2. 健康教育 保持外阴清洁干燥，穿棉质内</tspan><tspan x="2093" dy="24.4">裤，勿搔抓，外阴破溃者避免坐浴</tspan><tspan x="2093" dy="24.4">注意经期卫生</tspan></text></g>
<g><rect class="n" x="2000" y="3716" width="380" height="68" rx="11"/><text class="t" x="2017" y="3744"><tspan x="2017">“性”交、流产、分娩等情况下病原体侵入</tspan><tspan x="2017" dy="24.4">腺管</tspan></text></g>
<g><rect class="n" x="2038" y="3825" width="400" height="140" rx="11"/><text class="t" x="2055" y="3853"><tspan x="2055">多为单侧</tspan><tspan x="2055" dy="24.4">局部红肿、疼痛、灼热感，行走不便</tspan><tspan x="2055" dy="24.4">检查见局部皮肤红肿、发热，压痛明显</tspan><tspan x="2055" dy="24.4">脓肿形成时可触及波动感</tspan><tspan x="2055" dy="24.4">前庭大腺囊肿</tspan></text></g>
<g><rect class="n" x="2038" y="4014" width="380" height="68" rx="11"/><text class="t" x="2055" y="4042"><tspan x="2055">选用敏感的抗生素</tspan><tspan x="2055" dy="24.4">脓肿形成后可切开引流并作造口术</tspan></text></g>
<g><rect class="n" x="2038" y="4087" width="420" height="140" rx="11"/><text class="t" x="2055" y="4115"><tspan x="2055">1.卧床休息，保持局部清洁</tspan><tspan x="2055" dy="24.4">2.按医嘱给予抗生素及止痛剂</tspan><tspan x="2055" dy="24.4">3.脓肿或囊肿切开术后，局部放置引流条</tspan><tspan x="2055" dy="24.4">引流，每日更换1次</tspan><tspan x="2055" dy="24.4">4.外阴用消毒液擦洗</tspan></text></g>
<g><rect class="n" x="1878" y="4275" width="400" height="92" rx="11"/><text class="t" x="1895" y="4303"><tspan x="1895">女性上生殖道的一组感染性疾病，主要包括</tspan><tspan x="1895" dy="24.4">子宫内膜炎、输卵管炎、输卵管卵巢脓肿、</tspan><tspan x="1895" dy="24.4">盆腔腹膜炎</tspan></text></g>
<g><rect class="n" x="1916" y="4415" width="300" height="188" rx="11"/><text class="t" x="1933" y="4443"><tspan x="1933">年龄</tspan><tspan x="1933" dy="24.4">性活动</tspan><tspan x="1933" dy="24.4">下生殖道感染</tspan><tspan x="1933" dy="24.4">宫腔内手术操作后感染</tspan><tspan x="1933" dy="24.4">性卫生不良</tspan><tspan x="1933" dy="24.4">邻近器官炎症直接蔓延</tspan><tspan x="1933" dy="24.4">PID再次急性发作</tspan></text></g>
<g><rect class="n" x="1878" y="4619" width="400" height="68" rx="11"/><text class="t" x="1895" y="4647"><tspan x="1895">内源性病原体：来自原寄居于阴道内的菌群</tspan><tspan x="1895" dy="24.4">外源性病原体：主要为性传播疾病的病原体</tspan></text></g>
<g><rect class="n" x="1878" y="4753" width="420" height="165" rx="11"/><text class="t" x="1895" y="4781"><tspan x="1895">急性子宫内膜炎及子宫肌炎</tspan><tspan x="1895" dy="24.4">急性输卵管炎、输卵管积脓、输卵管卵巢脓肿</tspan><tspan x="1895" dy="24.4">急性盆腔腹膜炎</tspan><tspan x="1895" dy="24.4">急性盆腔结缔组织炎</tspan><tspan x="1895" dy="24.4">败血症及脓毒血症</tspan><tspan x="1895" dy="24.4">肝周围炎</tspan></text></g>
<g><rect class="n" x="1916" y="4942" width="420" height="140" rx="11"/><text class="t" x="1933" y="4970"><tspan x="1933">可因炎症轻重及范围大小而有不同的临床表现</tspan><tspan x="1933" dy="24.4">轻者无症状或症状轻微</tspan><tspan x="1933" dy="24.4">常见症状为下腹痛、阴道分泌物增多</tspan><tspan x="1933" dy="24.4">重者可有寒战、高热、头痛、食欲不振</tspan><tspan x="1933" dy="24.4">体征差异较大</tspan></text></g>
<g><rect class="n" x="1916" y="5128" width="400" height="92" rx="11"/><text class="t" x="1933" y="5156"><tspan x="1933">主要为抗生素药物治疗，必要时手术治疗</tspan><tspan x="1933" dy="24.4">及时、足量、规范、彻底</tspan><tspan x="1933" dy="24.4">中药治疗</tspan></text></g>
</g>
<g id="watermark">
<text class="w" transform="translate(646 518) rotate(-29.3)" dy=".35em">树图 shutu.cn</text>
<text class="w" transform="translate(646 1508) rotate(-29.3)" dy=".35em">树图 shutu.cn</text>
<text class="w" transform="translate(646 2498) rotate(-29.3)" dy=".35em">树图 shutu.cn</text>
<text class="w" transform="translate(646 3488) rotate(-29.3)" dy=".35em">树图 shutu.cn</text>
<text class="w" transform="translate(646 4478) rotate(-29.3)" dy=".35em">树图 shutu.cn</text>
<text class="w" transform="translate(646 5468) rotate(-29.3)" dy=".35em">树图 shutu.cn</text>
<text class="w" transform="translate(646 6458) rotate(-29.3)" dy=".35em">树图 shutu.cn</text>
<text class="w" transform="translate(1929 530) rotate(-29.3)" dy=".35em">树图 shutu.cn</text>
<text class="w" transform="translate(1929 1520) rotate(-29.3)" dy=".35em">树图 shutu.cn</text>
<text class="w" transform="translate(1929 2510) rotate(-29.3)" dy=".35em">树图 shutu.cn</text>
<text class="w" transform="translate(1929 3500) rotate(-29.3)" dy=".35em">树图 shutu.cn</text>
<text class="w" transform="translate(1929 4490) rotate(-29.3)" dy=".35em">树图 shutu.cn</text>
<text class="w" transform="translate(1929 5480) rotate(-29.3)" dy=".35em">树图 shutu.cn</text>
<text class="w" transform="translate(1929 6470) rotate(-29.3)" dy=".35em">树图 shutu.cn</text>
</g>
</g>
</svg>
